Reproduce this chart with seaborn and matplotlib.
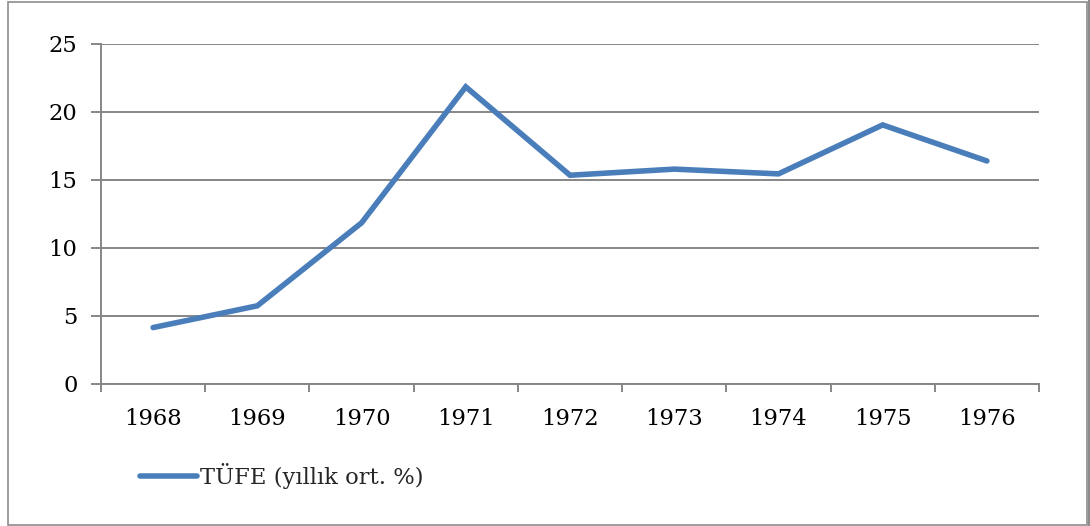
import matplotlib
matplotlib.use("Agg")
import matplotlib.pyplot as plt
import seaborn as sns
import pandas as pd
import numpy as np
from matplotlib.patches import Rectangle
from matplotlib.lines import Line2D

years = ["1968", "1969", "1970", "1971", "1972", "1973", "1974", "1975", "1976"]
tufe = [4.15, 5.75, 11.85, 21.85, 15.35, 15.8, 15.45, 19.05, 16.4]
series_name = "TÜFE (yıllık ort. %)"
y_ticks = [0, 5, 10, 15, 20, 25]

sns.set_theme(style="white")
plt.rcParams['font.family'] = ['DejaVu Serif']
plt.rcParams['font.size'] = 16.3

df = pd.DataFrame({"Yıl": years, "Değer": tufe})

fig = plt.figure(figsize=(10.9, 5.26), dpi=100)
ax = fig.add_axes([101/1090, 1 - 384/526, (1039 - 101)/1090, (384 - 44)/526])

grid_c = "#868686"
for t in y_ticks:
    ax.axhline(t, color=grid_c, lw=1.4, zorder=1)

sns.lineplot(data=df, x="Yıl", y="Değer", ax=ax, color="#4A7EBB", lw=4.0,
             label=series_name, sort=False, zorder=3, solid_capstyle="round",
             solid_joinstyle="miter")

ax.set_xlim(-0.5, len(years) - 0.5)
ax.set_ylim(0, 25)
ax.set_yticks(y_ticks)
ax.set_yticklabels([str(t) for t in y_ticks], fontsize=16.3)
ax.set_xticks(range(len(years)))
ax.set_xticklabels(years, fontsize=16.3)
ax.set_xticks(np.arange(-0.5, len(years), 1.0), minor=True)
ax.tick_params(axis="x", which="major", length=0, pad=17, colors="black")
ax.tick_params(axis="x", which="minor", length=6, width=1.4, color=grid_c, direction="out", bottom=True)
ax.tick_params(axis="y", which="major", length=7, width=1.4, direction="out", pad=10, left=True, labelcolor="black", color=grid_c)
ax.set_xlabel("")
ax.set_ylabel("")
for s in ["top", "right"]:
    ax.spines[s].set_visible(False)
for s in ["left", "bottom"]:
    ax.spines[s].set_color(grid_c)
    ax.spines[s].set_linewidth(1.4)

leg = ax.legend(loc="center left", bbox_to_anchor=(140/1090, 1 - 476/526),
                bbox_transform=fig.transFigure, frameon=False, handlelength=2.5,
                handletextpad=0.15, borderpad=0, borderaxespad=0, fontsize=16.3)

fig.patches.append(Rectangle((8/1090, 1 - 525/526), (1087 - 8)/1090, (525 - 2)/526,
                             transform=fig.transFigure, fill=False,
                             edgecolor="#8c8c8c", lw=1.2, zorder=0))
fig.lines.append(Line2D([1088.5/1090, 1088.5/1090], [0, 1], transform=fig.transFigure,
                        color="#8c8c8c", lw=2.2))

fig.savefig("out.png", dpi=100, facecolor="white")
